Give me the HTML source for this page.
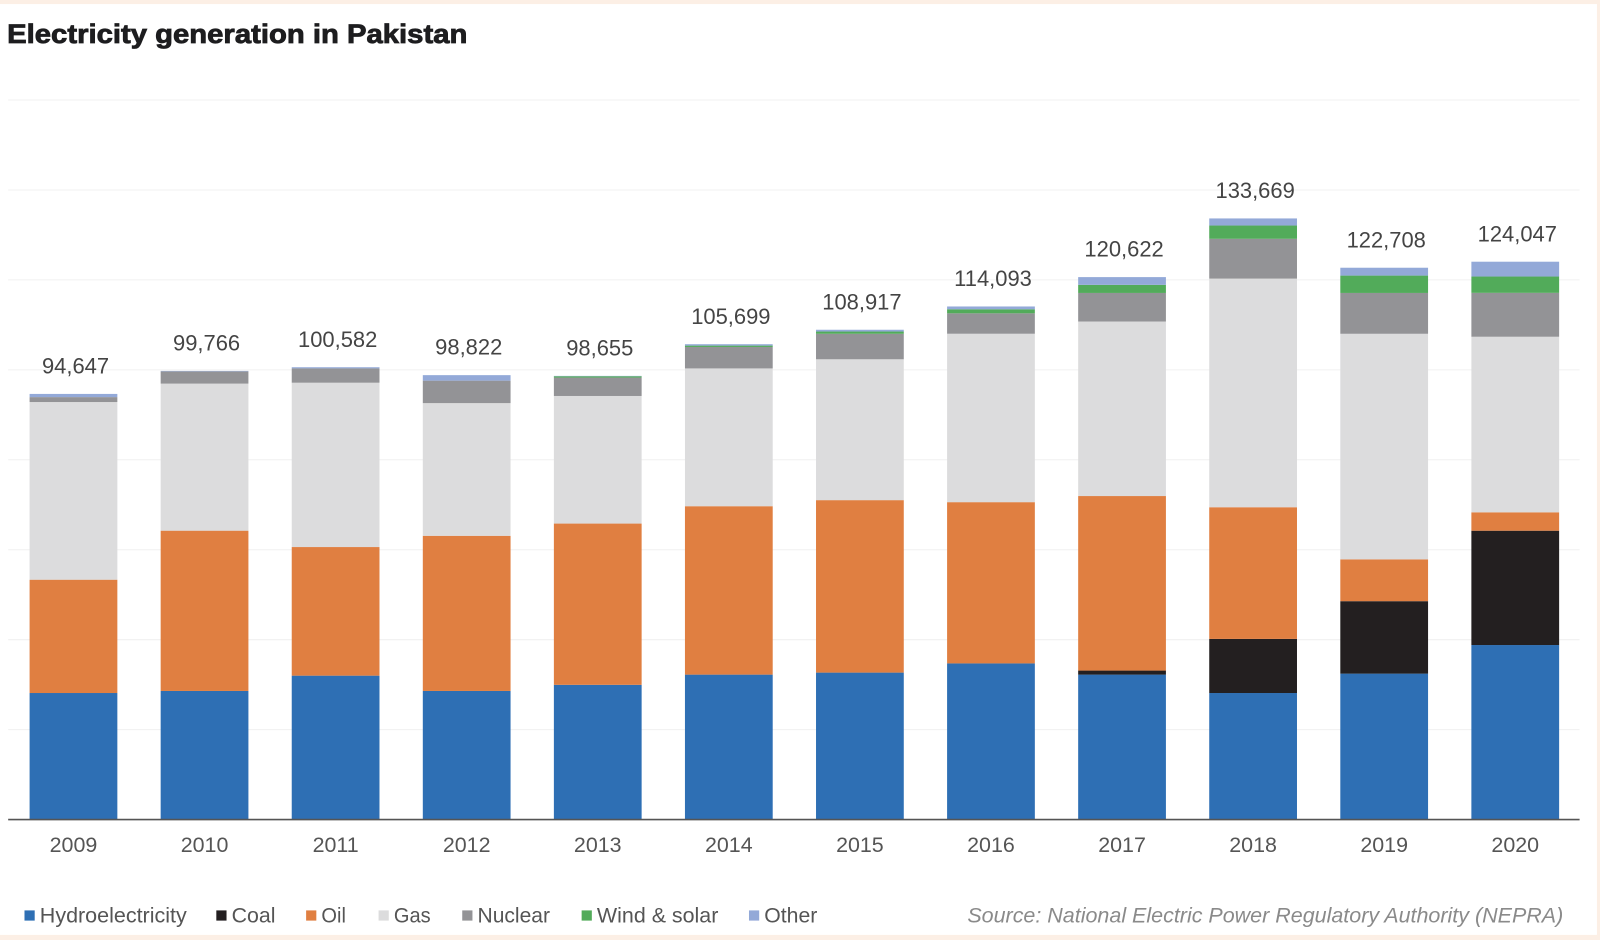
<!DOCTYPE html>
<html><head><meta charset="utf-8"><style>
html,body{margin:0;padding:0;background:#fcefe5;width:1600px;height:940px;overflow:hidden}
svg{display:block;font-family:"Liberation Sans",Arial,sans-serif}
</style></head><body>
<svg id="chart" width="1600" height="940" viewBox="0 0 1568 921" preserveAspectRatio="none">
<rect x="0" y="0" width="1568" height="921" fill="#fcefe5"/>
<rect x="0" y="4" width="1565" height="912" fill="#ffffff"/>
<text x="7" y="42" font-size="26" font-weight="bold" fill="#1d1d1f" stroke="#1d1d1f" stroke-width="0.8" textLength="451" lengthAdjust="spacingAndGlyphs">Electricity generation in Pakistan</text>
<g id="grid"></g>
<g id="bars"></g>
<line x1="8" y1="803" x2="1548" y2="803" stroke="#555" stroke-width="1.5"/>
<g id="xlabels"></g>
<g id="legend"></g>
<text x="948" y="904" font-size="20.5" font-style="italic" fill="#8a8a8a" textLength="584" lengthAdjust="spacingAndGlyphs">Source: National Electric Power Regulatory Authority (NEPRA)</text>
</svg>
<script>
const years = ['2009','2010','2011','2012','2013','2014','2015','2016','2017','2018','2019','2020'];
const totals = [94647,99766,100582,98822,98655,105699,108917,114093,120622,133669,122708,124047];
const totalLabels = ['94,647','99,766','100,582','98,822','98,655','105,699','108,917','114,093','120,622','133,669','122,708','124,047'];
const hydro = [28140,28600,32000,28600,29960,32230,32680,34720,32230,28140,32450,38810];
const coal = [0,0,0,0,0,0,0,0,900,12030,16110,25420];
const oil = [25200,35640,28600,34500,35860,37450,38350,35860,38810,29280,9300,4090];
const gas = [39500,32700,36540,29500,28370,30640,31320,37450,38810,50840,50160,39040];
const nuclear = [1100,2720,3180,5000,4090,4770,5670,4540,6350,8850,9080,9760];
const wind = [0,0,0,0,300,300,500,900,1800,2950,3860,3630];
const seriesNames = ['Hydroelectricity','Coal','Oil','Gas','Nuclear','Wind & solar','Other'];
const gridTicks = [0,20000,40000,60000,80000,100000,120000,140000,160000];

const NS='http://www.w3.org/2000/svg';
const colors=['#2e6fb4','#231f20','#e07f41','#dcdcdd','#939396','#52ab5a','#93a9d8'];
const y0=803, yTop=98, vMax=160000;
const yScale=v=>y0-(v/vMax)*(y0-yTop);
const x0=72, step=128.45, bw=86;
const xScale=i=>x0+i*step;
function mk(tag,attrs){const e=document.createElementNS(NS,tag);for(const k in attrs)e.setAttribute(k,attrs[k]);return e;}

const grid=document.getElementById('grid');
gridTicks.forEach((t,i)=>{if(t===0)return;
  const l=mk('line',{x1:8,x2:1548,y1:yScale(t),y2:yScale(t),stroke:'#f0f0f0','stroke-width':1});
  
  
  grid.appendChild(l);});

const bars=document.getElementById('bars');
const xl=document.getElementById('xlabels');
const keys=['hydro','coal','oil','gas','nuclear','wind','other'];
years.forEach((yr,i)=>{
  const other=Math.max(0,totals[i]-hydro[i]-coal[i]-oil[i]-gas[i]-nuclear[i]-wind[i]);
  const vals=[hydro[i],coal[i],oil[i],gas[i],nuclear[i],wind[i],other];
  let cum=0;
  const g=mk('g',{});
  
  
  vals.forEach((v,s)=>{
    if(v<=0)return;
    const yt=yScale(cum+v), yb=yScale(cum);
    const r=mk('rect',{x:xScale(i)-bw/2,y:yt,width:bw,height:yb-yt,fill:colors[s]});
    
    
    g.appendChild(r);cum+=v;});
  bars.appendChild(g);
  const t=mk('text',{x:xScale(i)+2,y:yScale(totals[i])-20,'text-anchor':'middle','font-size':21.5,fill:'#444'});
  t.textContent=totalLabels[i];
  
  
  bars.appendChild(t);
  const yl=mk('text',{x:xScale(i),y:835,'text-anchor':'middle','font-size':21,fill:'#555'});
  yl.textContent=yr;
  
  
  xl.appendChild(yl);
});

const lg=document.getElementById('legend');
const lx=[24,212,300,371,453,570,734];
const lw=[144,43,24,36,71,119,52];
seriesNames.forEach((n,s)=>{
  const g=mk('g',{});
  
  
  g.appendChild(mk('rect',{x:lx[s],y:892,width:10,height:10,fill:colors[s]}));
  const t=mk('text',{x:lx[s]+15,y:904,'font-size':20.5,fill:'#555',textLength:lw[s],lengthAdjust:'spacingAndGlyphs'});
  t.textContent=n;g.appendChild(t);lg.appendChild(g);
});
</script>
</body></html>
